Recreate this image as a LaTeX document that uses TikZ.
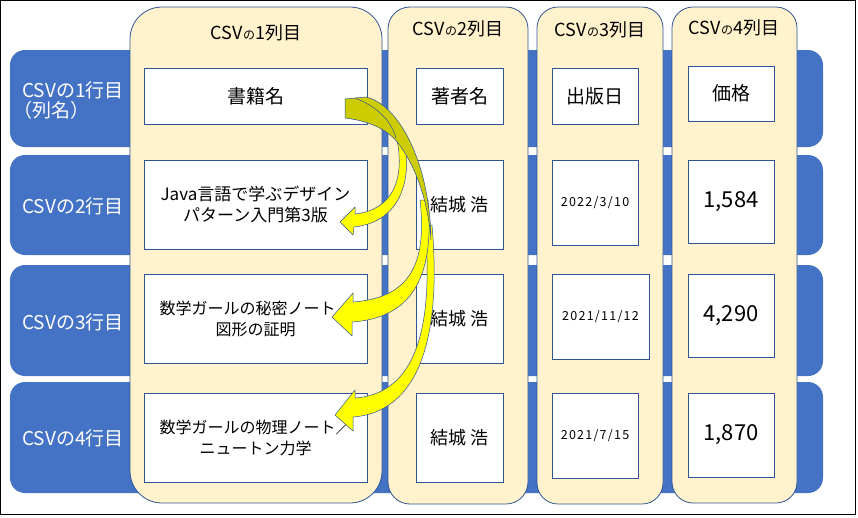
\documentclass[tikz,border=0pt]{standalone}
\usepackage{fontspec}
\setmainfont{Noto Sans CJK JP}
\newfontfamily\datefont[LetterSpace=10]{Noto Sans CJK JP}
\definecolor{rowblue}{HTML}{4472C4}
\definecolor{cream}{HTML}{FFF2CC}
\definecolor{edge}{HTML}{2F5597}
\definecolor{arrowy}{HTML}{FFFF00}
\definecolor{arrowd}{HTML}{CCCC00}
\newcommand\smallno{{\fontsize{12}{12}\selectfont の}}
\tikzset{
  rowbar/.style={fill=rowblue, draw=none, rounded corners=15pt, inner sep=0pt},
  colbox/.style={fill=cream, draw=edge, line width=0.8pt, inner sep=0pt},
  cell/.style={fill=white, draw=edge, line width=0.9pt, inner sep=0pt, align=center, text=black},
  rowlabel/.style={text=white, font=\fontsize{19}{20}\selectfont, anchor=west, align=left, inner sep=0pt},
  head/.style={font=\fontsize{18}{22}\selectfont, inner sep=0pt},
  big/.style={font=\fontsize{19}{22}\selectfont},
  title/.style={font=\fontsize{17}{21}\selectfont},
  book/.style={font=\fontsize{16}{21}\selectfont},
  author/.style={font=\fontsize{18}{22}\selectfont},
  date/.style={font=\datefont\fontsize{12.5}{15}\selectfont},
  price/.style={font=\fontsize{22}{26}\selectfont},
  band/.style={fill=arrowy, draw=edge, line width=0.5pt, line join=round},
  back/.style={fill=arrowd, draw=edge, line width=0.5pt, line join=round},
}
\begin{document}
\begin{tikzpicture}[x=1pt,y=-1pt]
\useasboundingbox (0,0) rectangle (858,517);
% row bars
\node[rowbar, minimum width=813pt, minimum height=97pt] (r1) at (416.5,98.5) {};
\node[rowbar, minimum width=813pt, minimum height=100pt] (r2) at (416.5,205) {};
\node[rowbar, minimum width=813pt, minimum height=111pt] (r3) at (416.5,320.5) {};
\node[rowbar, minimum width=813pt, minimum height=111pt] (r4) at (416.5,437.5) {};
% row labels
\node[rowlabel] (l1) at (22,100) {CSVの1行目\\\hspace*{-0.45em}（列名）};
\node[rowlabel] (l2) at (22,206) {CSVの2行目};
\node[rowlabel] (l3) at (22,322) {CSVの3行目};
\node[rowlabel] (l4) at (22,438) {CSVの4行目};
% columns
\node[colbox, rounded corners=32pt, minimum width=252pt, minimum height=496pt] (c1) at (256,255) {};
\node[colbox, rounded corners=22pt, minimum width=140pt, minimum height=497pt] (c2) at (458,255.5) {};
\node[colbox, rounded corners=21pt, minimum width=126pt, minimum height=497pt] (c3) at (600,255.5) {};
\node[colbox, rounded corners=21pt, minimum width=125pt, minimum height=496pt] (c4) at (734.5,255) {};
% headers
\node[head] (h1) at (256,33) {CSV\smallno 1列目};
\node[head] (h2) at (458,29) {CSV\smallno 2列目};
\node[head] (h3) at (600,30) {CSV\smallno 3列目};
\node[head] (h4) at (734,28) {CSV\smallno 4列目};
% column 1 cells
\node[cell, big, minimum width=223pt, minimum height=56pt] (a1) at (255.5,96) {書籍名};
\node[cell, title, minimum width=223pt, minimum height=89pt] (a2) at (255.5,204.5) {Java言語で学ぶデザイン\\パターン入門第3版};
\node[cell, book, minimum width=223pt, minimum height=89pt] (a3) at (255.5,318.5) {数学ガールの秘密ノート／\\図形の証明};
\node[cell, book, minimum width=223pt, minimum height=89pt] (a4) at (255.5,437.5) {数学ガールの物理ノート／\\ニュートン力学};
% column 2 cells
\node[cell, big, minimum width=87pt, minimum height=56pt] (b1) at (459.5,96) {著者名};
\node[cell, author, minimum width=87pt, minimum height=89pt] (b2) at (459.5,204.5) {結城 浩};
\node[cell, author, minimum width=87pt, minimum height=89pt] (b3) at (459.5,318.5) {結城 浩};
\node[cell, author, minimum width=87pt, minimum height=89pt] (b4) at (459.5,437.5) {結城 浩};
% column 3 cells
\node[cell, big, minimum width=86pt, minimum height=56pt] (d1) at (595,96) {出版日};
\node[cell, date, minimum width=86pt, minimum height=85pt] (d2) at (595,202.5) {2022/3/10};
\node[cell, date, minimum width=97pt, minimum height=85pt] (d3) at (600.5,316.5) {2021/11/12};
\node[cell, date, minimum width=86pt, minimum height=85pt] (d4) at (595,435.5) {2021/7/15};
% column 4 cells
\node[cell, big, minimum width=86pt, minimum height=55pt] (p1) at (731,93.5) {価格};
\node[cell, price, minimum width=86pt, minimum height=83pt] (p2) at (731,201.5) {1,584};
\node[cell, price, minimum width=86pt, minimum height=83pt] (p3) at (731,315.5) {4,290};
\node[cell, price, minimum width=86pt, minimum height=84pt] (p4) at (731,435) {1,870};
% curved arrows (yellow fronts)
\draw[band] (425,225) .. controls (435,340) and (410,394) .. (355,398) -- (355,390) -- (335,415) -- (353,431) -- (353,417) .. controls (418,412) and (442,340) .. (432,225) -- cycle;
\draw[band] (420,200) .. controls (428,270) and (405,298) .. (353,302) -- (353,293) -- (332,317) -- (352,336) -- (352,322) .. controls (410,318) and (435,280) .. (428,200) -- cycle;
\draw[band] (397,140) .. controls (405,180) and (392,210) .. (355,214) -- (355,207) -- (340,222) -- (353,235) -- (354,227) .. controls (398,222) and (412,185) .. (405,140) -- cycle;
% darker back side
\draw[back] (345,99) -- (366,97) .. controls (400,105) and (430,165) .. (431,240) .. controls (428,200) and (415,165) .. (398,143) .. controls (388,130) and (370,121) .. (345,118) -- cycle;
\draw[edge, line width=0.5pt] (355,98) .. controls (375,106) and (390,118) .. (396,138);
% frame
\draw[black, line width=1pt] (0.5,0.5) rectangle (855.5,514.5);
\end{tikzpicture}
\end{document}
